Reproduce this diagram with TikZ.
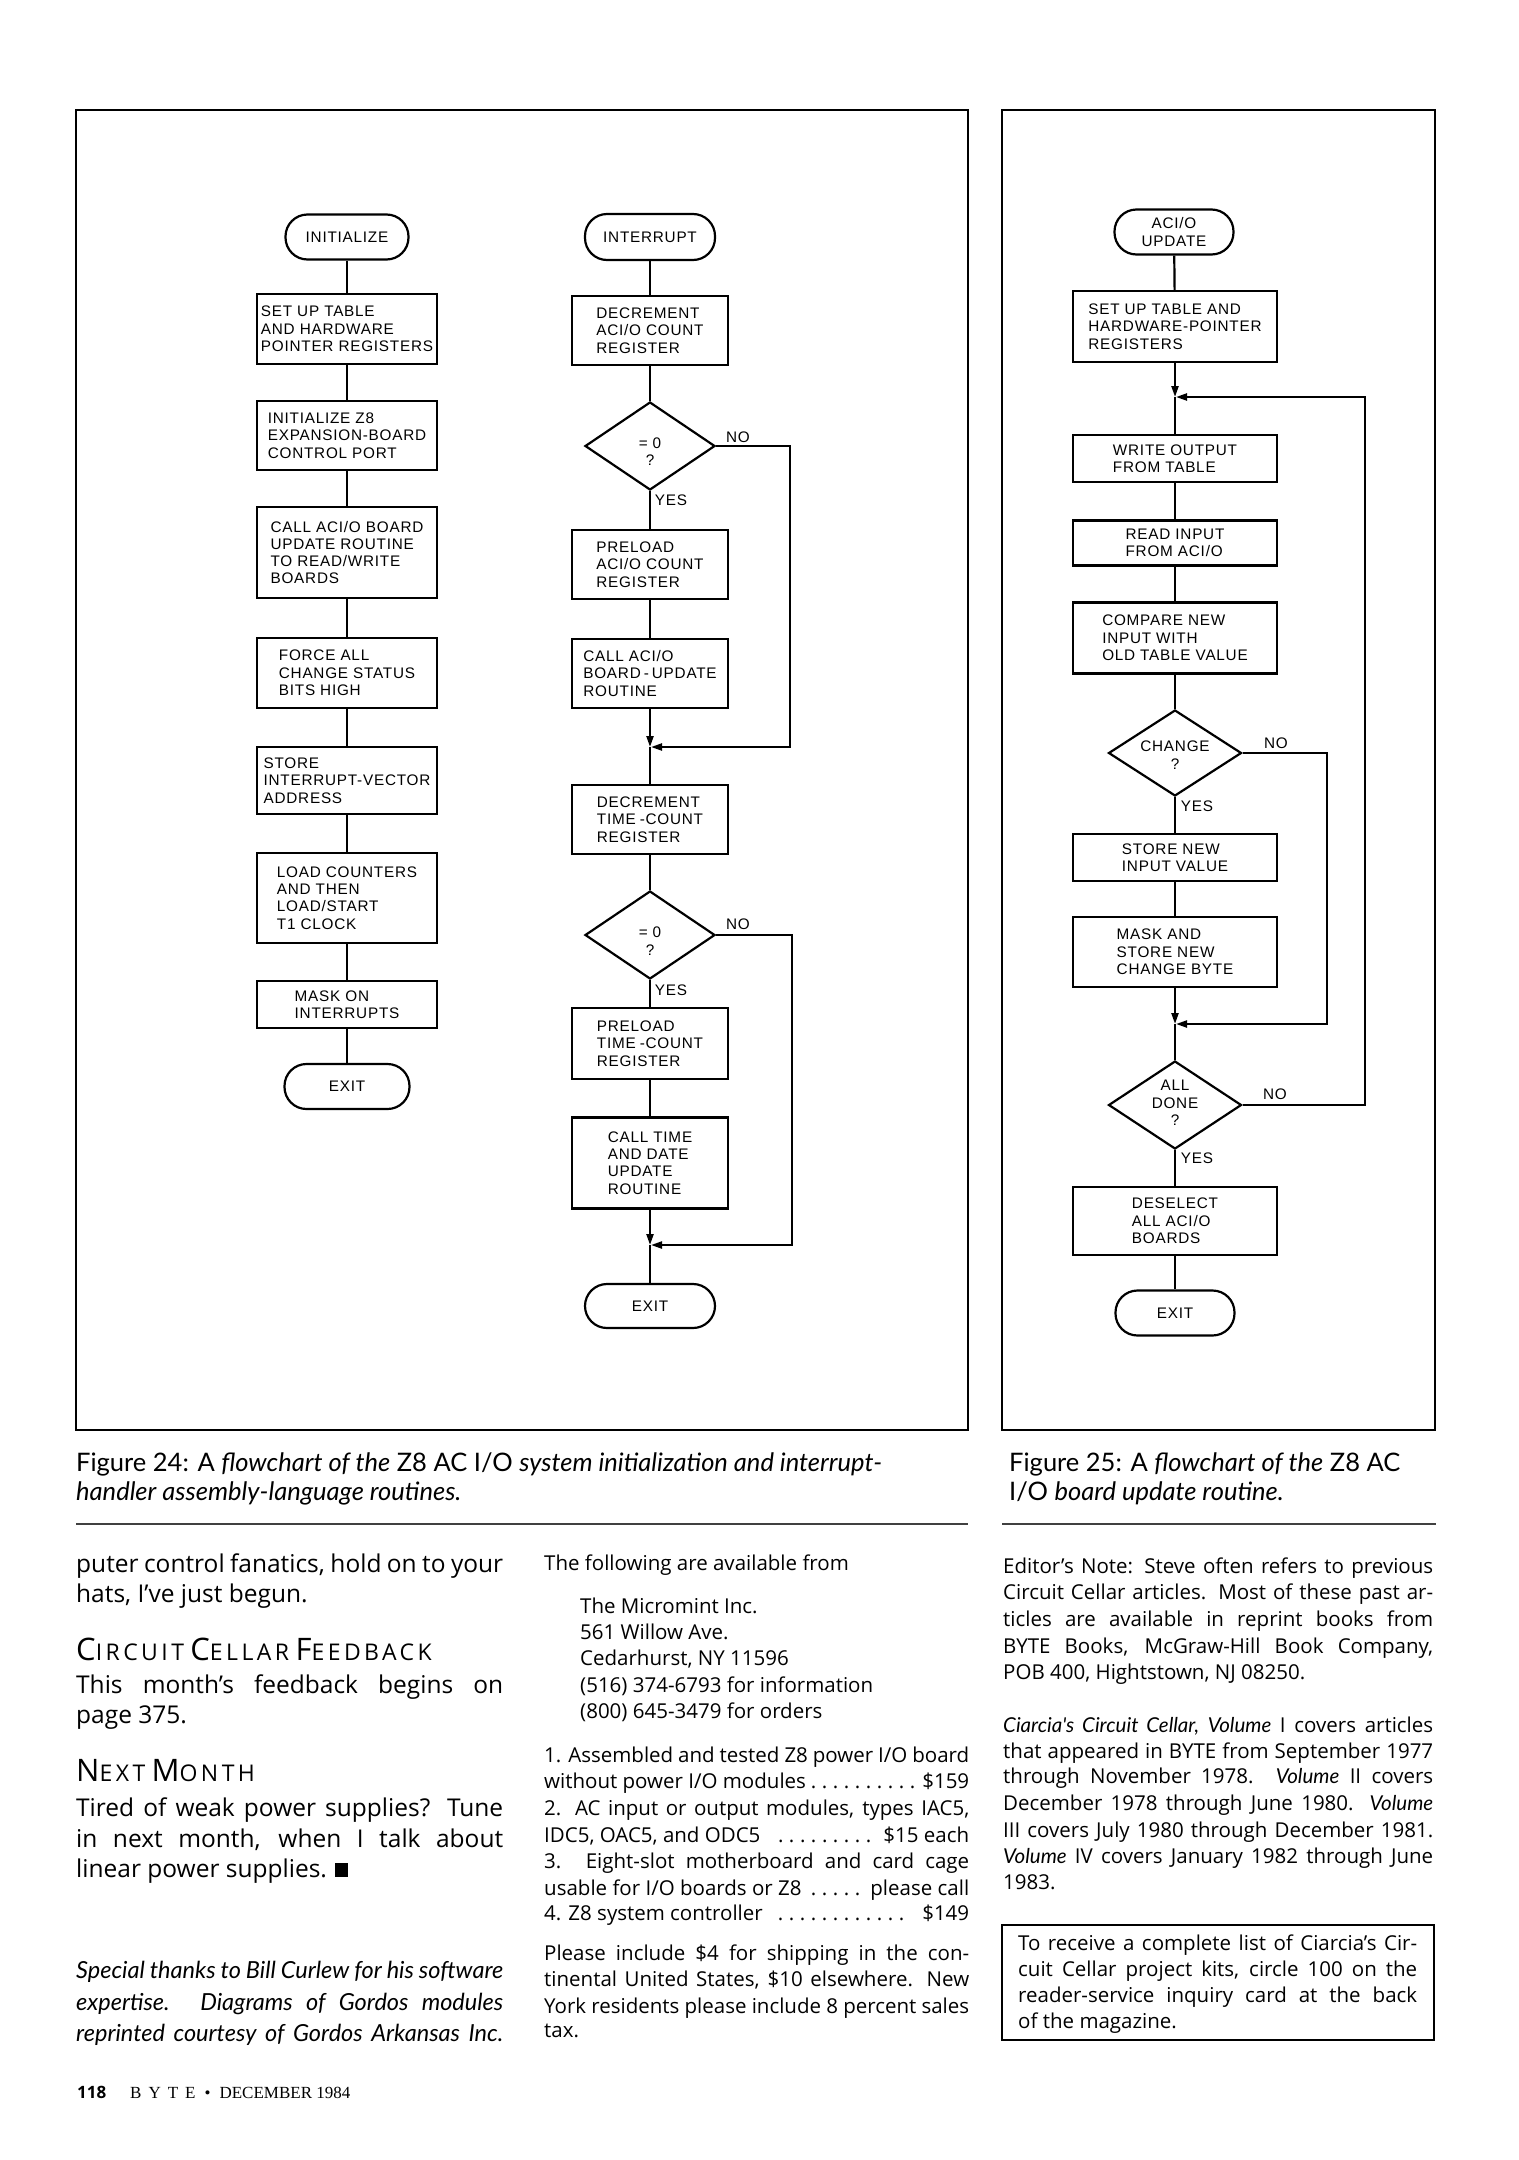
\documentclass[tikz,border=0pt]{standalone}
\usepackage{fontspec}
\setmainfont{Open Sans}
\newfontfamily\latofont{Lato}
\newfontfamily\scfont[LetterSpace=15]{Open Sans}
\newfontfamily\flowfont[LetterSpace=5]{Liberation Sans}
\newfontfamily\footfont{Liberation Serif}
\usetikzlibrary{shapes.geometric,arrows.meta}
\newcommand\JL[2]{\hbox to #1{#2}}
\newcommand\lit[1]{{\latofont\itshape #1}}
\newcommand\dotlead{\leaders\hbox to 11pt{\hss.\hss}\hfill}
\newcommand\FSC[2]{{\scfont\fontsize{31}{31}\selectfont #1}{\scfont\fontsize{23}{23}\selectfont #2}}
\begin{document}
\begin{tikzpicture}[x=1pt,y=-1pt,
  flow/.style={font=\flowfont\fontsize{15.3}{17.3}\selectfont},
  box/.style={flow, draw, line width=2.2pt, inner sep=0pt, align=left},
  term/.style={flow, draw, line width=2.2pt, inner sep=0pt, align=center, rounded corners=22pt},
  dia/.style={diamond, draw, line width=2.2pt, inner sep=0pt},
  dtxt/.style={flow, align=center, inner sep=0pt},
  lbl/.style={flow, inner sep=0pt},
  conn/.style={line width=2.2pt},
  arr/.style={line width=2.2pt, -{Triangle[length=11pt,width=7pt]}},
  frame/.style={draw, line width=2pt},
  c1/.style={anchor=base west, inner sep=0pt, font=\fontsize{24.5}{27}\selectfont},
  c1i/.style={anchor=base west, inner sep=0pt, font=\latofont\itshape\fontsize{23.5}{27}\selectfont},
  c2/.style={anchor=base west, inner sep=0pt, font=\fontsize{20.5}{24}\selectfont},
  captxt/.style={anchor=base west, inner sep=0pt, font=\latofont\fontsize{25.5}{29}\selectfont},
]
\useasboundingbox (0,0) rectangle (1518,2160);
\fill[white] (0,0) rectangle (1518,2160);
% frames
\draw[frame] (76,110) rectangle (968,1430);
\draw[frame] (1002,110) rectangle (1435,1430);
% ---------- left column
\node[term, minimum width=123, minimum height=45] (init) at (347,237) {INITIALIZE};
\node[box, minimum width=180, minimum height=70] (b1) at (347,329) {SET UP TABLE\\AND HARDWARE\\POINTER REGISTERS};
\node[box, minimum width=180, minimum height=69] (b2) at (347,435.5) {INITIALIZE Z8\\EXPANSION-BOARD\\CONTROL PORT};
\node[box, minimum width=180, minimum height=91] (b3) at (347,552.5) {CALL ACI/O BOARD\\UPDATE ROUTINE\\TO READ/WRITE\\BOARDS};
\node[box, minimum width=180, minimum height=70] (b4) at (347,673) {FORCE ALL\\CHANGE STATUS\\BITS HIGH};
\node[box, minimum width=180, minimum height=67] (b5) at (347,780.5) {STORE\\INTERRUPT-VECTOR\\ADDRESS};
\node[box, minimum width=180, minimum height=90] (b6) at (347,898) {LOAD COUNTERS\\AND THEN\\LOAD/START\\T1 CLOCK};
\node[box, minimum width=180, minimum height=47] (b7) at (347,1004.5) {MASK ON\\INTERRUPTS};
\node[term, minimum width=125, minimum height=45] (exit1) at (347,1086.5) {EXIT};
\draw[conn] (init) -- (b1);
\draw[conn] (b1) -- (b2);
\draw[conn] (b2) -- (b3);
\draw[conn] (b3) -- (b4);
\draw[conn] (b4) -- (b5);
\draw[conn] (b5) -- (b6);
\draw[conn] (b6) -- (b7);
\draw[conn] (b7) -- (exit1);
% ---------- middle column
\node[term, minimum width=130, minimum height=46] (intr) at (650,237) {INTERRUPT};
\node[box, minimum width=156, minimum height=69] (m1) at (650,330.5) {DECREMENT\\ACI/O COUNT\\REGISTER};
\node[dia, minimum width=130, minimum height=88] (d1) at (650,446) {};
\node[dtxt] (d1t) at (650,452) {= 0\\?};
\node[box, minimum width=156, minimum height=69] (m2) at (650,564.5) {PRELOAD\\ACI/O COUNT\\REGISTER};
\node[box, minimum width=156, minimum height=69] (m3) at (650,673.5) {CALL ACI/O\\BOARD\kern3pt-\kern3pt UPDATE\\ROUTINE};
\coordinate (mg1) at (650,747);
\node[box, minimum width=156, minimum height=69] (m4) at (650,819.5) {DECREMENT\\TIME\kern4pt-COUNT\\REGISTER};
\node[dia, minimum width=130, minimum height=88] (d2) at (650,935) {};
\node[dtxt] (d2t) at (650,941) {= 0\\?};
\node[box, minimum width=156, minimum height=71] (m5) at (650,1043.5) {PRELOAD\\TIME\kern4pt-COUNT\\REGISTER};
\node[box, minimum width=156, minimum height=91] (m6) at (650,1163) {CALL TIME\\AND DATE\\UPDATE\\ROUTINE};
\coordinate (mg2) at (650,1245);
\node[term, minimum width=130, minimum height=44] (exit2) at (650,1306) {EXIT};
\draw[conn] (intr) -- (m1);
\draw[conn] (m1) -- (d1);
\draw[conn] (d1) -- (m2);
\draw[conn] (m2) -- (m3);
\draw[arr] (m3) -- (mg1);
\draw[conn] (mg1) -- (m4);
\draw[conn] (m4) -- (d2);
\draw[conn] (d2) -- (m5);
\draw[conn] (m5) -- (m6);
\draw[arr] (m6) -- (mg2);
\draw[conn] (mg2) -- (exit2);
\coordinate (l1) at (790,747);
\coordinate (l2) at (792,1245);
\draw[arr, shorten >=1pt] (d1.east) -| (l1) -- (mg1);
\draw[arr, shorten >=1pt] (d2.east) -| (l2) -- (mg2);
\node[lbl] (d1no) at (738,437) {NO};
\node[lbl] (d1yes) at (671,500) {YES};
\node[lbl] (d2no) at (738,924) {NO};
\node[lbl] (d2yes) at (671,990) {YES};
% ---------- right column
\node[term, minimum width=119, minimum height=45] (t3) at (1174,232) {ACI/O\\UPDATE};
\node[box, minimum width=204, minimum height=71] (r1) at (1175,326.5) {SET UP TABLE AND\\HARDWARE-POINTER\\REGISTERS};
\coordinate (mg3) at (1175,397);
\node[box, minimum width=204, minimum height=47] (r2) at (1175,458.5) {WRITE OUTPUT\\FROM TABLE};
\node[box, minimum width=204, minimum height=45] (r3) at (1175,543) {READ INPUT\\FROM ACI/O};
\node[box, minimum width=204, minimum height=71] (r4) at (1175,638) {COMPARE NEW\\INPUT WITH\\OLD TABLE VALUE};
\node[dia, minimum width=133, minimum height=86] (d3) at (1175,753) {};
\node[dtxt] (d3t) at (1175,755) {CHANGE\\?};
\node[box, minimum width=204, minimum height=47] (r5) at (1175,857.5) {STORE NEW\\INPUT VALUE};
\node[box, minimum width=204, minimum height=70] (r6) at (1175,952) {MASK AND\\STORE NEW\\CHANGE BYTE};
\coordinate (mg4) at (1175,1024);
\node[dia, minimum width=133, minimum height=88] (d4) at (1175,1105) {};
\node[dtxt] (d4t) at (1175,1103) {ALL\\DONE\\?};
\node[box, minimum width=204, minimum height=68] (r7) at (1175,1221) {DESELECT\\ALL ACI/O\\BOARDS};
\node[term, minimum width=119, minimum height=45] (exit3) at (1175,1313) {EXIT};
\draw[conn] (t3) -- (r1);
\draw[arr] (r1) -- (mg3);
\draw[conn] (mg3) -- (r2);
\draw[conn] (r2) -- (r3);
\draw[conn] (r3) -- (r4);
\draw[conn] (r4) -- (d3);
\draw[conn] (d3) -- (r5);
\draw[conn] (r5) -- (r6);
\draw[arr] (r6) -- (mg4);
\draw[conn] (mg4) -- (d4);
\draw[conn] (d4) -- (r7);
\draw[conn] (r7) -- (exit3);
\coordinate (l3) at (1327,1024);
\coordinate (l4) at (1365,397);
\draw[arr, shorten >=1pt] (d3.east) -| (l3) -- (mg4);
\draw[arr, shorten >=1pt] (d4.east) -| (l4) -- (mg3);
\node[lbl] (d3no) at (1276,743) {NO};
\node[lbl] (d3yes) at (1197,806) {YES};
\node[lbl] (d4no) at (1275,1094) {NO};
\node[lbl] (d4yes) at (1197,1158) {YES};
% ---------- captions
\node[captxt] (cap24a) at (76,1471) {Figure 24: A \textit{flowchart of the} Z8 AC I/O \textit{system initialization and interrupt-}};
\node[captxt] (cap24b) at (76,1500) {\textit{handler assembly-language routines.}};
\node[captxt] (cap25a) at (1009,1471) {Figure 25: A \textit{flowchart of the} Z8 AC};
\node[captxt] (cap25b) at (1009,1500) {I/O \textit{board update routine.}};
\draw[line width=2pt, black!75] (76,1524) -- (968,1524);
\draw[line width=2pt, black!75] (1002,1524) -- (1436,1524);
% ---------- column 1
\node[c1] (a1) at (76,1572) {\JL{427pt}{puter control fanatics, hold on to your}};
\node[c1] (a2) at (76,1602) {hats, I've just begun.};
\node[c1] (a3) at (76,1660) {\FSC{C}{IRCUIT} \FSC{C}{ELLAR} \FSC{F}{EEDBACK}};
\node[c1] (a4) at (76,1693) {\JL{427pt}{This month's feedback begins on}};
\node[c1] (a5) at (76,1723) {page 375.};
\node[c1] (a6) at (76,1781) {\FSC{N}{EXT} \FSC{M}{ONTH}};
\node[c1] (a7) at (76,1816) {\JL{427pt}{Tired of weak power supplies? Tune}};
\node[c1] (a8) at (76,1847) {\JL{427pt}{in next month, when I talk about}};
\node[c1] (a9) at (76,1877) {linear power supplies. \rule{13pt}{14pt}};
\node[c1i] (a10) at (76,1978) {\JL{427pt}{Special thanks to Bill Curlew for his software}};
\node[c1i] (a11) at (76,2010) {\JL{427pt}{expertise. Diagrams of Gordos modules}};
\node[c1i] (a12) at (76,2041) {\JL{427pt}{reprinted courtesy of Gordos Arkansas Inc.}};
% ---------- column 2
\node[c2] (p1) at (544,1570) {The following are available from};
\node[c2] (p2) at (580,1613) {The Micromint Inc.};
\node[c2] (p3) at (580,1639) {561 Willow Ave.};
\node[c2] (p4) at (580,1665) {Cedarhurst, NY 11596};
\node[c2] (p5) at (580,1692) {(516) 374-6793 for information};
\node[c2] (p6) at (580,1718) {(800) 645-3479 for orders};
\node[c2] (p7) at (544,1762) {\JL{425pt}{1. Assembled and tested Z8 power I/O board}};
\node[c2] (p8) at (544,1788) {\JL{425pt}{without power I/O modules\dotlead\$159}};
\node[c2] (p9) at (544,1815) {\JL{425pt}{2. AC input or output modules, types IAC5,}};
\node[c2] (p10) at (544,1842) {\JL{425pt}{IDC5, OAC5, and ODC5 \dotlead\ \$15 each}};
\node[c2] (p11) at (544,1868) {\JL{425pt}{3. Eight-slot motherboard and card cage}};
\node[c2] (p12) at (544,1895) {\JL{425pt}{usable for I/O boards or Z8\dotlead please call}};
\node[c2] (p13) at (544,1920) {\JL{425pt}{4. Z8 system controller \dotlead\ \$149}};
\node[c2] (p14) at (544,1960) {\JL{425pt}{Please include \$4 for shipping in the con-}};
\node[c2] (p15) at (544,1986) {\JL{425pt}{tinental United States, \$10 elsewhere. New}};
\node[c2] (p16) at (544,2013) {\JL{425pt}{York residents please include 8 percent sales}};
\node[c2] (p17) at (544,2037) {tax.};
% ---------- column 3
\node[c2] (e1) at (1003,1573) {\JL{430pt}{Editor's Note: Steve often refers to previous}};
\node[c2] (e2) at (1003,1599) {\JL{430pt}{Circuit Cellar articles. Most of these past ar-}};
\node[c2] (e3) at (1003,1626) {\JL{430pt}{ticles are available in reprint books from}};
\node[c2] (e4) at (1003,1653) {\JL{430pt}{BYTE Books, McGraw-Hill Book Company,}};
\node[c2] (e5) at (1003,1679) {POB 400, Hightstown, NJ 08250.};
\node[c2] (v1) at (1003,1732) {\JL{430pt}{\lit{Ciarcia's Circuit Cellar, Volume} I covers articles}};
\node[c2] (v2) at (1003,1758) {\JL{430pt}{that appeared in BYTE from September 1977}};
\node[c2] (v3) at (1003,1783) {\JL{430pt}{through November 1978. \lit{Volume} II covers}};
\node[c2] (v4) at (1003,1810) {\JL{430pt}{December 1978 through June 1980. \lit{Volume}}};
\node[c2] (v5) at (1003,1837) {\JL{430pt}{III covers July 1980 through December 1981.}};
\node[c2] (v6) at (1003,1863) {\JL{430pt}{\lit{Volume} IV covers January 1982 through June}};
\node[c2] (v7) at (1003,1889) {1983.};
\draw[line width=1.8pt] (1002,1925) rectangle (1434,2040);
\node[c2] (k1) at (1018,1950) {\JL{399pt}{To receive a complete list of Ciarcia's Cir-}};
\node[c2] (k2) at (1018,1976) {\JL{399pt}{cuit Cellar project kits, circle 100 on the}};
\node[c2] (k3) at (1018,2002) {\JL{399pt}{reader-service inquiry card at the back}};
\node[c2] (k4) at (1018,2028) {of the magazine.};
% ---------- footer
\node[anchor=base west, inner sep=0pt, font=\fontsize{17}{17}\selectfont\bfseries] (pgno) at (77,2098) {118};
\node[anchor=base west, inner sep=0pt, font=\footfont\fontsize{17}{17}\selectfont] (mag) at (130,2098) {B\kern7pt Y\kern7pt T\kern7pt E\kern9pt\textbullet\kern9pt DECEMBER 1984};
\end{tikzpicture}
\end{document}
